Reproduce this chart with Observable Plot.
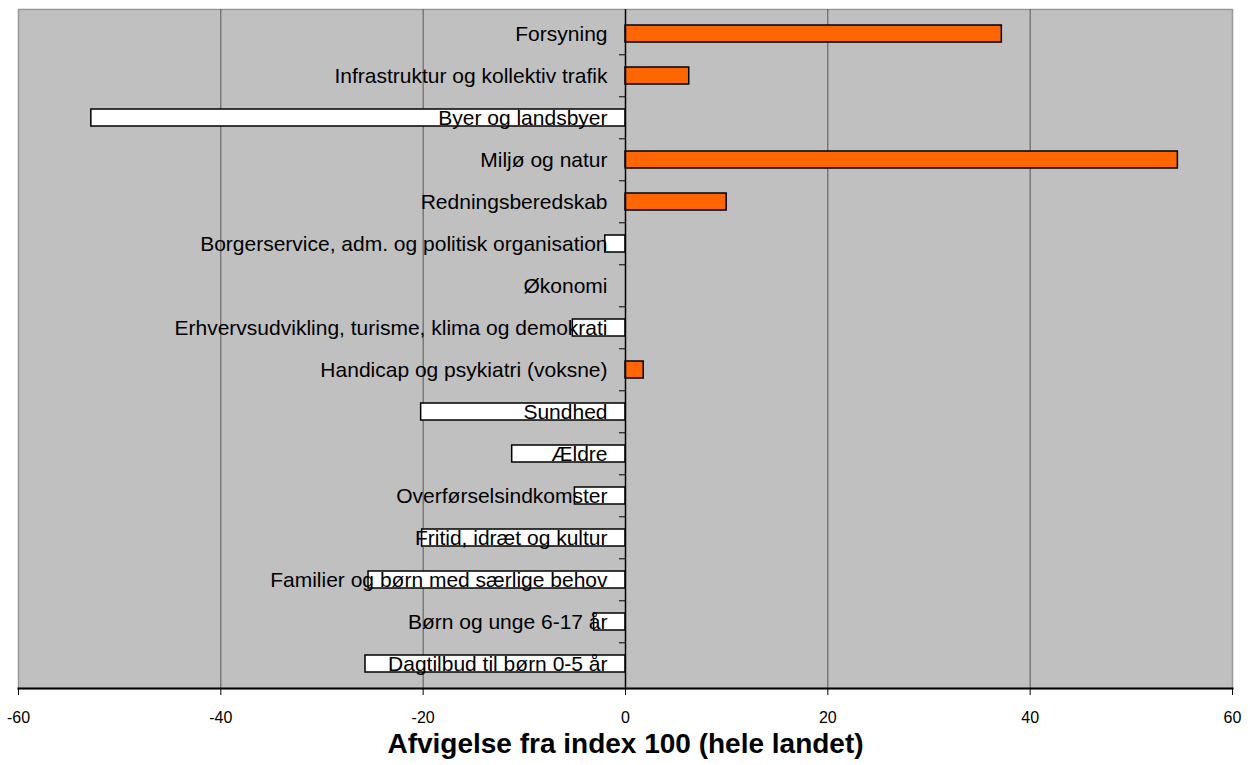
<!DOCTYPE html>
<html><head><meta charset="utf-8">
<script src="https://cdn.jsdelivr.net/npm/d3@7"></script>
<script src="https://cdn.jsdelivr.net/npm/@observablehq/plot@0.6"></script>
<style>
body{margin:0;background:#fff}
</style>
</head><body><div id="chart"></div>
<script>
const categories = [
  "Forsyning",
  "Infrastruktur og kollektiv trafik",
  "Byer og landsbyer",
  "Miljø og natur",
  "Redningsberedskab",
  "Borgerservice, adm. og politisk organisation",
  "Økonomi",
  "Erhvervsudvikling, turisme, klima og demokrati",
  "Handicap og psykiatri (voksne)",
  "Sundhed",
  "Ældre",
  "Overførselsindkomster",
  "Fritid, idræt og kultur",
  "Familier og børn med særlige behov",
  "Børn og unge 6-17 år",
  "Dagtilbud til børn 0-5 år"
];
const values = [37.2, 6.3, -52.8, 54.6, 10.0, -2.0, 0, -5.2, 1.8, -20.2, -11.2, -5.0, -20.1, -25.4, -3.1, -25.7];
const xTicks = [-60, -40, -20, 0, 20, 40, 60];
const gridValues = [-40, -20, 20, 40];
const xTitle = "Afvigelse fra index 100 (hele landet)";

const data = categories.map((c, i) => ({category: c, value: values[i]}));
const W = 1257, H = 765, mt = 9, mb = 77;
const step = (H - mt - mb) / categories.length;

const chart = Plot.plot({
  width: W, height: H,
  marginLeft: 18, marginRight: 25, marginTop: mt, marginBottom: mb,
  style: {fontFamily: "'Liberation Sans', Arial, sans-serif", background: "#fff", color: "#000"},
  x: {domain: [-60, 60]},
  y: {domain: categories, paddingInner: 0.6, paddingOuter: 0.3, axis: null},
  marks: [
    Plot.frame({fill: "#c0c0c0", stroke: "#999", strokeWidth: 1.5}),
    Plot.ruleX(gridValues, {stroke: "#555", strokeWidth: 1}),
    Plot.barX(data, {filter: d => d.value > 0, x: "value", y: "category", fill: "#ff6600", stroke: "#000", strokeWidth: 1.5}),
    Plot.barX(data, {filter: d => d.value <= 0, x: "value", y: "category", fill: "#fff", stroke: "#000", strokeWidth: 1.5}),
    Plot.ruleX([0], {stroke: "#000", strokeWidth: 1.5}),
    Plot.ruleY(categories.slice(1), {y: d => d, x1: -0.6, x2: 0, dy: -step / 2, stroke: "#000", strokeWidth: 1}),
    Plot.text(data, {x: () => 0, y: "category", text: "category", dx: -18, textAnchor: "end", fontSize: 21, fill: "#000"}),
    Plot.frame({anchor: "bottom", stroke: "#000", strokeWidth: 2}),
    Plot.axisX(xTicks, {tickSize: 7, tickFormat: () => "", label: null, stroke: "#000"}),
    Plot.text(xTicks, {x: d => d, text: d => String(d), frameAnchor: "bottom", lineAnchor: "middle", dy: 29, fontSize: 16, fill: "#000"}),
    Plot.text([xTitle], {frameAnchor: "bottom", lineAnchor: "middle", dy: 56, fontSize: 28, fontWeight: "bold", fill: "#000"})
  ]
});
document.getElementById("chart").appendChild(chart);
</script>
</body></html>
